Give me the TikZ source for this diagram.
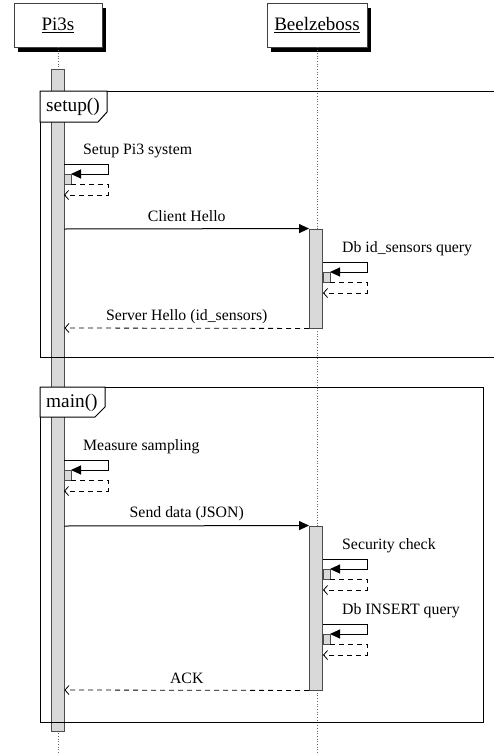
\documentclass[tikz,border=0pt]{standalone}
\usepackage{fontspec}
\setmainfont{Liberation Serif}
\usetikzlibrary{arrows.meta,shadows}
\begin{document}
\begin{tikzpicture}[x=1pt,y=-1pt,
  actor/.style={draw=black!75, fill=white, line width=0.9pt, minimum height=44pt,
    inner sep=0pt, font=\fontsize{19}{22}\selectfont,
    drop shadow={shadow xshift=4pt, shadow yshift=-5pt, fill=black, opacity=1}},
  lifeline/.style={draw=black!60, line width=0.7pt, dotted},
  actbar/.style={draw=black!70, fill=black!15, line width=0.9pt, inner sep=0pt, minimum width=13pt},
  msg/.style={draw=black, line width=1pt, -{Triangle[length=10pt,width=9pt]}},
  ret/.style={draw=black, line width=0.8pt, dash pattern=on 5pt off 4pt, -{Straight Barb[length=4pt,width=9pt]}},
  lbl/.style={font=\fontsize{15.8}{18}\selectfont, inner sep=0pt},
  frm/.style={draw=black, line width=1pt},
  tag/.style={font=\fontsize{19.3}{22}\selectfont, inner sep=0pt, anchor=base west}
]
\clip (0,0) rectangle (494,755);
\fill[white] (0,0) rectangle (494,755);

% participants
\node[actor, minimum width=88pt] (pi) at (58,25) {\underline{Pi3s}};
\node[actor, minimum width=100pt] (bz) at (317,25) {\underline{Beelzeboss}};

% lifelines
\coordinate (piend) at (58,755);
\coordinate (bzend) at (317,755);
\draw[lifeline] (pi.south) -- (piend);
\draw[lifeline] (bz.south) -- (bzend);

% activation bars
\node[actbar, minimum height=662pt] (apa) at (57.5,400) {};
\node[actbar, minimum height=99pt] (ab1) at (316,278.5) {};
\node[actbar, minimum height=164pt] (ab2) at (316,608) {};

% self calls
\newcommand\selfmsg[3]{%
  \draw[msg] (#1,#2) -- ++(44,0) -- ++(0,10) -- ++(-37,0);
  \draw[actbar] (#1,#2+10) rectangle ++(7,10);
  \draw[ret] (#1+7,#2+20) -- ++(37,0) -- ++(0,11) -- ++(-44,0);
  \node[lbl, anchor=base west] at (#1+19,#2-10) {#3};
}

% setup frame
\draw[frm] (40,91) rectangle (530,357);
\draw[frm, fill=white] (40,91) -- (107,91) -- (107,112) -- (98,122) -- (40,122) -- cycle;
\node[tag] (tsetup) at (46,111) {setup()};

\selfmsg{64}{164}{Setup Pi3 system}
\coordinate (ch1) at (apa.east |- 0,229);
\coordinate (ch2) at (ab1.north west);
\draw[msg] (ch1) -- (ch2) node[lbl, midway, above=7pt, anchor=base] {Client Hello};
\selfmsg{323}{262}{Db id\_sensors query}
\coordinate (sh1) at (ab1.south west);
\coordinate (sh2) at (apa.east |- 0,328);
\draw[ret] (sh1) -- (sh2) node[lbl, midway, above=8pt, anchor=base] {Server Hello (id\_sensors)};

% main frame
\draw[frm] (40,387) rectangle (483,722);
\draw[frm, fill=white] (40,387) -- (105,387) -- (105,407) -- (95,417) -- (40,417) -- cycle;
\node[tag] (tmain) at (46,407) {main()};

\selfmsg{64}{460}{Measure sampling}
\coordinate (sd1) at (apa.east |- 0,526);
\coordinate (sd2) at (ab2.north west);
\draw[msg] (sd1) -- (sd2) node[lbl, midway, above=8pt, anchor=base] {Send data (JSON)};
\selfmsg{323}{559}{Security check}
\selfmsg{323}{624}{Db INSERT query}
\coordinate (ak1) at (ab2.south west);
\coordinate (ak2) at (apa.east |- 0,690);
\draw[ret] (ak1) -- (ak2) node[lbl, midway, above=7pt, anchor=base] {ACK};
\end{tikzpicture}
\end{document}
